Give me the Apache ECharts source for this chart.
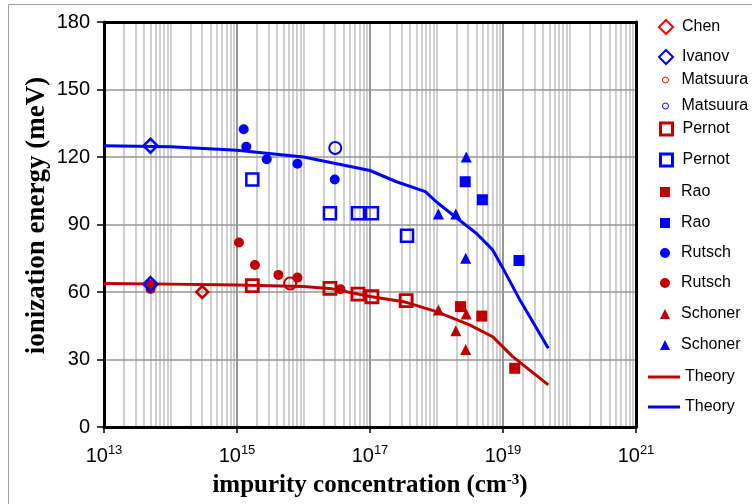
<!DOCTYPE html>
<html><head><meta charset="utf-8">
<script src="https://cdn.jsdelivr.net/npm/echarts@6/dist/echarts.min.js"></script>
<style>html,body{margin:0;padding:0;background:#fff}#c{width:752px;height:504px}</style>
</head><body><div id="c"></div>
<script>
// ---- data (concentration cm^-3, ionization energy meV) ----
const tickExponents = [13, 15, 17, 19, 21];
const yTicks = [0, 30, 60, 90, 120, 150, 180];

const chenRed = [[3e14, 60]];
const ivanovBlue = [[5e13, 125], [5e13, 63.5]];
const matsuuraRed = [[6.3e15, 63.8]];
const matsuuraBlue = [[3e16, 124]];
const pernotRed = [[1.7e15, 62.8], [2.5e16, 61.6], [6.6e16, 59.1], [1.07e17, 57.9], [3.5e17, 56.2]];
const pernotBlue = [[1.7e15, 110], [2.5e16, 95], [6.6e16, 95], [1.07e17, 95], [3.6e17, 85]];
const raoRed = [[2.3e18, 53.5], [4.8e18, 49.3], [1.5e19, 26.1]];
const raoBlue = [[2.7e18, 109], [4.9e18, 101], [1.74e19, 74]];
const rutschBlue = [[1.26e15, 132.3], [1.38e15, 124.6], [2.8e15, 119], [8.1e15, 117], [2.95e16, 110]];
const rutschRed = [[5e13, 61.3], [5e13, 63.3], [1.07e15, 82], [1.86e15, 72], [4.2e15, 67.6], [8.1e15, 66.4], [3.6e16, 61.2]];
const schonerRed = [[1.07e18, 52], [1.95e18, 42.8], [2.8e18, 50.2], [2.75e18, 34.5]];
const schonerBlue = [[2.8e18, 120], [1.07e18, 94.7], [1.95e18, 94.7], [2.75e18, 75]];
const theoryRed = [[1e13, 63.8], [1e14, 63.5], [1e15, 63.1], [1e16, 62.4], [2.7e16, 61.4], [1e17, 58], [3.2e17, 55.7], [1e18, 51.3], [3.2e18, 45.3], [7e18, 40.1], [1.4e19, 31.3], [4.8e19, 18.7]];
const theoryBlue = [[1e13, 125], [1e14, 124.6], [1e15, 123], [1e16, 120], [1e17, 114], [2.5e17, 109], [6.8e17, 104.6], [1e18, 100], [2.2e18, 92], [4e18, 86], [7e18, 78.7], [1e19, 70.5], [1.8e19, 56.4], [4.8e19, 35]];

const RED = '#c00000', BRIGHTRED = '#ff0000', BLUE = '#0000ff';
const T = 'rgba(0,0,0,0)';
const SANS = 'Liberation Sans, Arial, sans-serif';
const SERIF = 'Liberation Serif, Times New Roman, serif';

// ---- grid lines (axis decoration) ----
const gridLines = [];
for (let e = 13; e < 21; e++) {
  for (let m = 1; m <= 9; m++) {
    if (e === 13 && m === 1) continue;
    const v = m * Math.pow(10, e);
    const major = (m === 1 && e % 2 === 1);
    gridLines.push({xAxis: v, lineStyle: {color: major ? '#969696' : '#c4c4c4', width: major ? 2 : 1.6, type: 'solid'}});
  }
}
yTicks.slice(1, -1).forEach(v => gridLines.push({yAxis: v, lineStyle: {color: '#969696', width: 1.6, type: 'solid'}}));

// tiny inward nudge keeps the last decade inside the axis extent after the log transform
const tickVals = tickExponents.map(e => Math.pow(10, e) * (e === 21 ? 0.9999999 : 1));

function scatter(name, data, symbol, size, color, opts) {
  opts = opts || {};
  const hollow = !!opts.hollow;
  const s = {
    name: name, type: 'scatter', data: data, symbol: symbol, symbolSize: size, z: opts.z || 12,
    itemStyle: hollow ? {color: T, borderColor: opts.legendColor || color, borderWidth: opts.bw || 2.5, opacity: 1}
                      : {color: opts.legendColor || color, borderWidth: 0, opacity: 1},
    emphasis: {disabled: true}
  };
  if (opts.legendColor) {
    s.data = data.map(d => ({value: d, itemStyle: hollow ? {borderColor: color} : {color: color}}));
  }
  return s;
}

const series = [
  {type: 'line', data: [], z: 1, silent: true, markLine: {silent: true, symbol: ['none', 'none'], label: {show: false}, animation: false, data: gridLines}},
  scatter('Chen', chenRed, 'diamond', 12, RED, {hollow: true, legendColor: BRIGHTRED, bw: 2.5}),
  scatter('Matsuura', matsuuraRed, 'circle', 12, RED, {hollow: true, legendColor: BRIGHTRED, bw: 2}),
  scatter('Matsuura ', matsuuraBlue, 'circle', 12, BLUE, {hollow: true, bw: 2}),
  scatter('Pernot', pernotRed, 'rect', 12, RED, {hollow: true, bw: 2.8}),
  scatter('Pernot ', pernotBlue, 'rect', 12, BLUE, {hollow: true, bw: 2.5}),
  scatter('Rao', raoRed, 'rect', 11, RED),
  scatter('Rao ', raoBlue, 'rect', 11, BLUE),
  scatter('Rutsch', rutschBlue, 'circle', 10, BLUE),
  scatter('Rutsch ', rutschRed, 'circle', 10, RED),
  scatter('Schoner', schonerRed, 'triangle', 11, RED),
  scatter('Schoner ', schonerBlue, 'triangle', 11, BLUE),
  scatter('Ivanov', ivanovBlue, 'diamond', 14, BLUE, {hollow: true, bw: 2.5, z: 14}),
  {name: 'Theory', type: 'line', data: theoryRed, symbol: 'none', showSymbol: false, z: 11, lineStyle: {color: RED, width: 3}, itemStyle: {color: RED}, emphasis: {disabled: true}},
  {name: 'Theory ', type: 'line', data: theoryBlue, symbol: 'none', showSymbol: false, z: 11, lineStyle: {color: BLUE, width: 3}, itemStyle: {color: BLUE}, emphasis: {disabled: true}}
];

// legend items
const legendNames = ['Chen', 'Ivanov', 'Matsuura', 'Matsuura ', 'Pernot', 'Pernot ', 'Rao', 'Rao ', 'Rutsch', 'Rutsch ', 'Schoner', 'Schoner ', 'Theory', 'Theory '];
const legendY = [27, 57, 80, 106, 129, 160, 192, 223, 253, 283, 314, 345, 377, 407];
const legendSize = [14, 14, 6, 6, 12, 12, 10, 10, 10, 10, 10, 10, 0, 0];
const legendBorder = [2, 2, 1, 1, 3, 3, 0, 0, 0, 0, 0, 0, 0, 0];

const legends = legendNames.map((n, i) => {
  const isLine = legendSize[i] === 0;
  const w = isLine ? 32 : legendSize[i];
  const h = isLine ? 3 : legendSize[i];
  const left = isLine ? 648 : 665 - w / 2;
  const textX = left + w + 5;
  const pad = Math.max(0, 681 - textX);
  const lg = {
    data: [n], left: left, top: legendY[i] - 9, padding: 0, itemWidth: w, itemHeight: h,
    selectedMode: false, formatter: nm => nm.trim(),
    textStyle: {fontFamily: SANS, fontSize: 16, color: '#000', lineHeight: 18, padding: [0, 0, 0, pad]}
  };
  if (isLine) { lg.icon = 'rect'; lg.itemStyle = {borderWidth: 0}; }
  else lg.itemStyle = {borderWidth: legendBorder[i]};
  return lg;
});

const option = {
  animation: false,
  backgroundColor: '#fff',
  graphic: [{type: 'rect', shape: {x: 8.5, y: 4.5, width: 900, height: 700}, style: {fill: 'none', stroke: '#a0a0a0', lineWidth: 1}, silent: true}],
  grid: {left: 104, right: 116, top: 22, bottom: 77, containLabel: false},
  legend: legends,
  xAxis: [{
    type: 'log', logBase: 10, min: 1e13, max: 1e21, z: 10,
    axisLine: {show: true, onZero: false, lineStyle: {color: '#000', width: 3}},
    axisTick: {show: true, customValues: tickVals, length: 6, inside: false, lineStyle: {color: '#000', width: 1.5}},
    splitLine: {show: false}, minorTick: {show: false}, minorSplitLine: {show: false},
    axisLabel: {
      customValues: tickVals, margin: 17, color: '#000', showMaxLabel: true, showMinLabel: true, hideOverlap: false,
      formatter: v => '{b|10}{s|' + Math.round(Math.log10(v)) + '}',
      rich: {b: {fontFamily: SANS, fontSize: 20, color: '#000', lineHeight: 22, verticalAlign: 'bottom'},
             s: {fontFamily: SANS, fontSize: 13, color: '#000', lineHeight: 22, verticalAlign: 'top'}}
    },
    name: 'impurity concentration (cm{s|-3})', nameLocation: 'middle', nameGap: 46,
    nameTextStyle: {fontFamily: SERIF, fontWeight: 'bold', fontSize: 25, color: '#000',
      rich: {s: {fontFamily: SERIF, fontWeight: 'bold', fontSize: 15, color: '#000', verticalAlign: 'top', lineHeight: 26}}}
  }, {
    type: 'log', logBase: 10, min: 1e13, max: 1e21, position: 'top', z: 10,
    axisLine: {show: true, onZero: false, lineStyle: {color: '#000', width: 3}},
    axisTick: {show: false}, axisLabel: {show: false}, splitLine: {show: false}
  }],
  yAxis: [{
    type: 'value', min: 0, max: 180, interval: 30, z: 10,
    axisLine: {show: true, onZero: false, lineStyle: {color: '#000', width: 3}},
    axisTick: {show: true, length: 7, inside: false, lineStyle: {color: '#000', width: 1.5}},
    splitLine: {show: false},
    axisLabel: {fontFamily: SANS, fontSize: 20, color: '#000', margin: 14},
    name: 'ionization energy (meV)', nameLocation: 'middle', nameGap: 53, nameMoveOverlap: false,
    nameTextStyle: {fontFamily: SERIF, fontWeight: 'bold', fontSize: 27, color: '#000', padding: [0, 0, 0, 18]}
  }, {
    type: 'value', min: 0, max: 180, interval: 30, position: 'right', z: 10,
    axisLine: {show: true, onZero: false, lineStyle: {color: '#000', width: 3}},
    axisTick: {show: false}, axisLabel: {show: false}, splitLine: {show: false}
  }],
  series: series
};

const chart = echarts.init(document.getElementById('c'), null, {renderer: 'canvas'});
chart.setOption(option);
</script>
</body></html>
